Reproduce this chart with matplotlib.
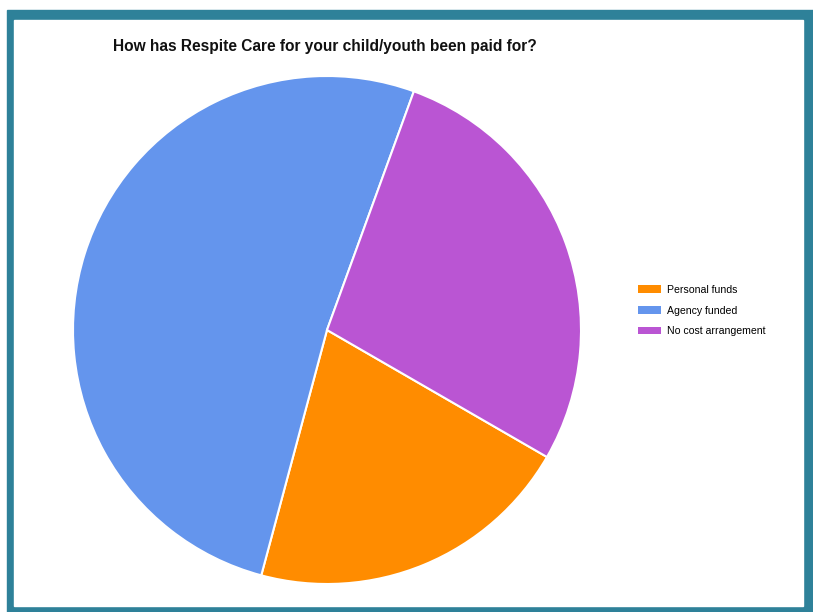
import matplotlib.pyplot as plt
from matplotlib.patches import Rectangle

plt.rcParams['font.family'] = ['Liberation Sans', 'DejaVu Sans']

labels = ['Personal funds', 'Agency funded', 'No cost arrangement']
counts = [15, 37, 20]
colors = ['#ff8c00', '#6495ed', '#ba55d3']

W, H = 813, 612
fig = plt.figure(figsize=(W / 100, H / 100), dpi=100)

# teal frame with white panel inside
fig.patches.append(Rectangle((7 / W, 0), (W - 7) / W, (H - 10) / H,
                             transform=fig.transFigure, color='#2e8199', zorder=-2))
fig.patches.append(Rectangle((14 / W, 6 / H), (803 - 14) / W, (H - 20 - 6) / H,
                             transform=fig.transFigure, color='white', zorder=-1))

# pie area: centre (327, 330) px, radius 254 px
r = 254
cx, cy = 327, 330
ax = fig.add_axes([(cx - r) / W, (H - cy - r) / H, 2 * r / W, 2 * r / H])
wedges, _ = ax.pie(counts, colors=colors, startangle=-30, counterclock=False,
                   wedgeprops=dict(edgecolor='white', linewidth=1.5))
ax.set_aspect('equal')
ax.set_xlim(-1.0, 1.0)
ax.set_ylim(-1.0, 1.0)
ax.axis('off')

fig.text(113 / W, 1 - 47 / H, 'How has Respite Care for your child/youth been paid for?',
         fontsize=11.2, fontweight='bold', va='center', ha='left', color='#111111')

leg = fig.legend(wedges, labels, loc='upper left', bbox_to_anchor=(638 / W, 1 - 285 / H),
                 frameon=False, fontsize=7.6, handlelength=2.15, handleheight=0.77,
                 handletextpad=0.55, labelspacing=1.0, borderpad=0, borderaxespad=0)
for h in leg.legend_handles:
    h.set_edgecolor('none')

fig.savefig('out.png', dpi=100)
